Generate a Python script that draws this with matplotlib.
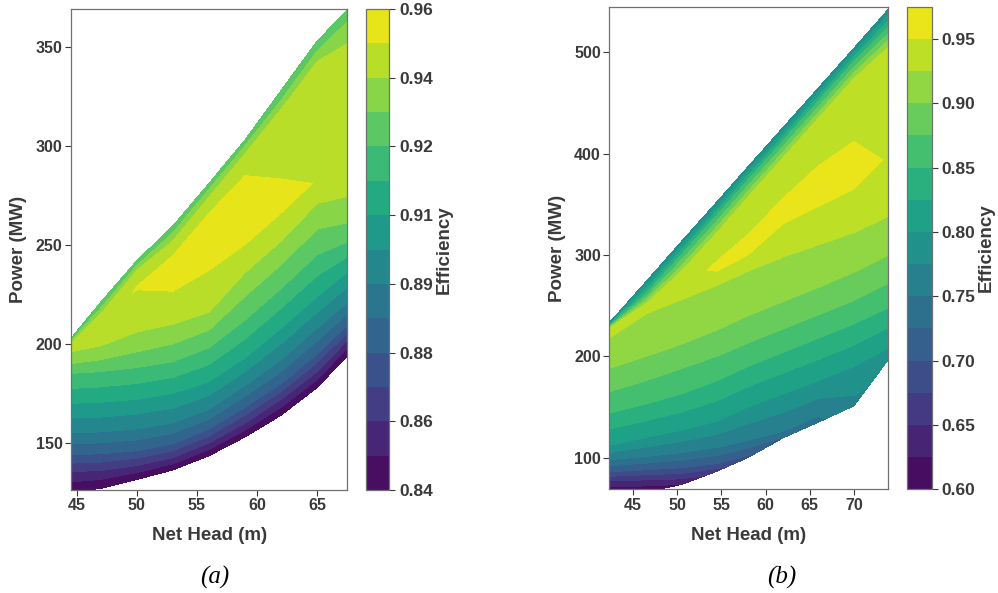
import numpy as np
import matplotlib
matplotlib.use('Agg')
import matplotlib.pyplot as plt

plt.rcParams['font.family'] = ['Liberation Sans', 'DejaVu Sans']
plt.rcParams['font.weight'] = 'bold'
plt.rcParams['axes.labelweight'] = 'bold'

# ---- panel (a): nodes read column by column (net head), rows follow the bands
heads_a = [44.5, 47, 50, 53, 56, 59, 62, 65, 67.5]
power_a = [
    [125, 127, 131.5, 136.3, 143.5, 153, 164, 178, 194],
    [135.5, 136, 138.5, 142.5, 150, 160, 172, 186, 201.7],
    [144, 144.5, 146, 149.5, 157, 168, 180, 195, 209.4],
    [155, 155.5, 157, 160, 167, 179, 192, 208, 220.9],
    [170, 170.5, 172, 175, 181, 193, 208, 224, 236.2],
    [185, 186, 188, 191, 198, 212, 228, 245, 251.5],
    [190, 192, 196, 200, 207, 224, 240, 258, 261.1],
    [196, 199, 206, 210, 216, 236, 252, 271, 274.5],
    [197.5, 205, 226, 226.5, 237, 250, 266, 276, 290],
    [198.5, 209, 228, 236, 251, 268, 275, 282, 310],
    [199.5, 212, 231, 244.6, 266, 285, 283.3, 290, 330],
    [200.5, 215, 237, 252, 274, 296, 318, 342, 351],
    [201.5, 218, 239.5, 256, 278, 300, 323, 348, 362.5],
    [202.5, 221, 242, 259.5, 281, 303, 328, 353, 368.5],
]
eff_a = [
    [0.840] * 9,
    [0.8571] * 9,
    [0.8743] * 9,
    [0.8914] * 9,
    [0.9086] * 9,
    [0.9257] * 9,
    [0.9343] * 9,
    [0.9429] * 9,
    [0.9437, 0.9463, 0.9506, 0.9514, 0.9514, 0.9514, 0.9514, 0.9497, 0.9463],
    [0.9446, 0.9480, 0.9519, 0.9549, 0.9557, 0.9557, 0.9540, 0.9510, 0.9471],
    [0.9437, 0.9471, 0.9506, 0.9514, 0.9514, 0.9514, 0.9514, 0.9489, 0.9463],
    [0.9411, 0.9429, 0.9429, 0.9429, 0.9429, 0.9429, 0.9437, 0.9437, 0.9433],
    [0.9326, 0.9343, 0.9343, 0.9343, 0.9343, 0.9343, 0.9343, 0.9343, 0.9343],
    [0.9240, 0.9257, 0.9257, 0.9257, 0.9257, 0.9257, 0.9257, 0.9257, 0.9257],
]
cbar_ticks_a = ['0.84', '0.86', '0.88', '0.89', '0.91', '0.92', '0.94', '0.96']

# ---- panel (b)
heads_b = [42.3, 46.5, 50.5, 54.5, 58, 62, 66, 70, 73.9]
power_b = [
    [66, 66, 73.5, 86.5, 100, 119.5, 135, 151, 196.7],
    [77, 78, 79, 87, 100.5, 120, 135.5, 151.5, 197.2],
    [86, 88, 90, 94, 102, 121, 136, 152, 197.7],
    [98, 101, 105, 110, 117, 126, 141, 153, 198.2],
    [112, 120, 127, 136, 150, 163, 176, 190, 208],
    [144, 153, 163, 176, 190, 204, 218, 232, 248],
    [165, 176, 188, 200, 213, 227, 241, 255, 272],
    [188, 200, 212, 226, 240, 254, 268, 283, 300],
    [218, 242, 256, 270, 284, 298, 310, 322, 338],
    [222, 245, 266, 284, 300, 331, 348, 365, 360],
    [224, 248, 274, 289, 310, 343, 368, 388, 395],
    [226, 250, 280, 294, 320, 356, 388, 412, 430],
    [227.5, 252, 284, 322, 357, 396, 435, 474, 505],
    [230, 262, 300.5, 339.5, 374, 413, 452, 491, 525],
    [233, 274, 313.5, 352.5, 387, 426, 465, 504, 542.5],
]
eff_b = [
    [0.600, 0.600, 0.625, 0.6625, 0.695, 0.725, 0.745, 0.7625, 0.7875],
    [0.650, 0.650, 0.650, 0.665, 0.69625, 0.72625, 0.74625, 0.76375, 0.78875],
    [0.700, 0.700, 0.700, 0.700, 0.700, 0.7275, 0.7475, 0.765, 0.790],
    [0.750, 0.750, 0.750, 0.750, 0.750, 0.750, 0.750, 0.7675, 0.79125],
    [0.800] * 9,
    [0.850] * 9,
    [0.875] * 9,
    [0.900] * 9,
    [0.925] * 9,
    [0.930, 0.9325, 0.935, 0.950, 0.950, 0.950, 0.950, 0.950, 0.9375],
    [0.9325, 0.935, 0.940, 0.95375, 0.9625, 0.9625, 0.9625, 0.9625, 0.9475],
    [0.930, 0.9325, 0.935, 0.950, 0.950, 0.950, 0.950, 0.950, 0.940],
    [0.925] * 9,
    [0.850] * 9,
    [0.775] * 9,
]
levels_b = [0.600, 0.625, 0.650, 0.675, 0.700, 0.725, 0.750, 0.775, 0.800,
            0.825, 0.850, 0.875, 0.900, 0.925, 0.950, 0.975]
cbar_ticks_b = [0.60, 0.65, 0.70, 0.75, 0.80, 0.85, 0.90, 0.95]

fig = plt.figure(figsize=(9.98, 5.93), dpi=100)
ax_a = fig.add_axes([0.0711, 0.1737, 0.2770, 0.8110])
cax_a = fig.add_axes([0.3664, 0.1737, 0.0237, 0.8110])
ax_b = fig.add_axes([0.6105, 0.1749, 0.2796, 0.8138])
cax_b = fig.add_axes([0.9085, 0.1749, 0.0251, 0.8138])

tick_col = '#3a3a3a'
spine_col = '#707070'


def grid(heads, rows):
    return np.tile(np.array(heads, dtype=float), (len(rows), 1))


levels_a = np.linspace(0.84, 0.96, 15)
cs_a = ax_a.contourf(grid(heads_a, power_a), np.array(power_a), np.array(eff_a),
                     levels=levels_a, cmap='viridis')
cs_b = ax_b.contourf(grid(heads_b, power_b), np.array(power_b), np.array(eff_b),
                     levels=levels_b, cmap='viridis')

ax_a.set_xlim(44.53, 67.5)
ax_a.set_ylim(126.2, 369)
ax_a.set_xticks([45, 50, 55, 60, 65])
ax_a.set_yticks([150, 200, 250, 300, 350])

ax_b.set_xlim(42.3, 73.9)
ax_b.set_ylim(68.7, 545)
ax_b.set_xticks([45, 50, 55, 60, 65, 70])
ax_b.set_yticks([100, 200, 300, 400, 500])

for ax in (ax_a, ax_b):
    ax.set_xlabel('Net Head (m)', fontsize=13.5, color=tick_col, labelpad=10)
    ax.set_ylabel('Power (MW)', fontsize=13.5, color=tick_col, labelpad=6)
    ax.tick_params(labelsize=11.5, colors=tick_col, length=4, width=0.8, pad=2)
    for s in ax.spines.values():
        s.set_color(spine_col)
        s.set_linewidth(0.9)

cb_a = fig.colorbar(cs_a, cax=cax_a, ticks=levels_a[::2])
cb_a.ax.set_yticklabels(cbar_ticks_a)
cb_b = fig.colorbar(cs_b, cax=cax_b, ticks=cbar_ticks_b)
cb_b.ax.set_yticklabels(['%.2f' % t for t in cbar_ticks_b])
for cb in (cb_a, cb_b):
    cb.set_label('Efficiency', fontsize=13.5, color=tick_col, labelpad=2)
    cb.ax.tick_params(labelsize=12.5, colors=tick_col, length=4, width=0.8, pad=3)
    cb.outline.set_edgecolor(spine_col)
    cb.outline.set_linewidth(0.9)

fig.text(0.2155, 0.026, '(a)', family='Liberation Serif', style='italic',
         fontweight='normal', fontsize=18, ha='center', va='center')
fig.text(0.7833, 0.026, '(b)', family='Liberation Serif', style='italic',
         fontweight='normal', fontsize=18, ha='center', va='center')

fig.savefig('out.png', dpi=100)
